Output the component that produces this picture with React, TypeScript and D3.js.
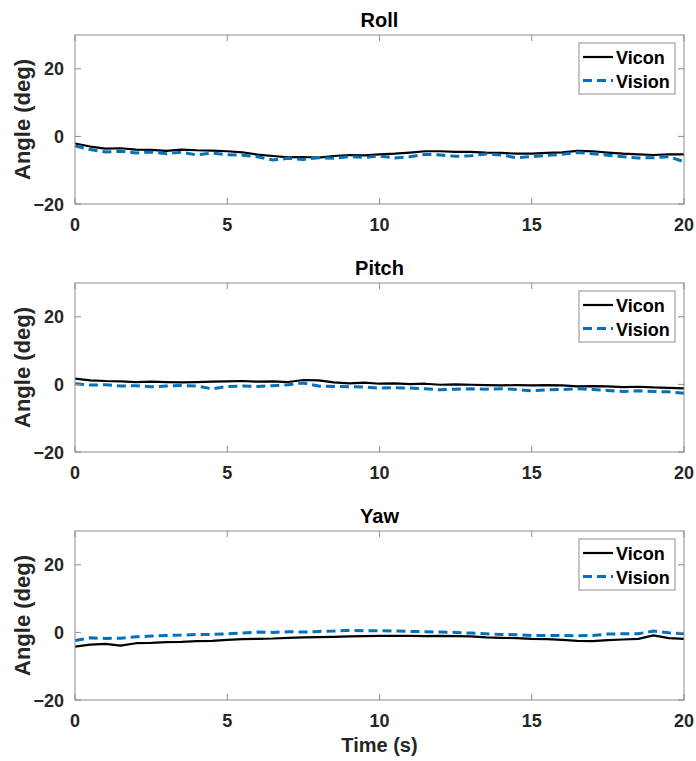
import React from "react";
import * as d3 from "d3";

const time: number[] = d3.range(0, 20.001, 0.5);

const rollVicon = [-2.1, -3.0, -3.6, -3.5, -3.9, -4.0, -4.3, -3.9, -4.1, -4.2, -4.4, -4.7, -5.4, -5.8, -6.2, -6.1, -6.3, -5.8, -5.5, -5.6, -5.3, -5.1, -4.8, -4.4, -4.4, -4.6, -4.6, -4.8, -4.9, -5.1, -5.1, -4.9, -4.7, -4.3, -4.4, -4.8, -5.1, -5.3, -5.5, -5.3, -5.3];
const rollVision = [-2.8, -3.9, -4.6, -4.4, -4.9, -4.6, -5.1, -4.7, -5.5, -4.9, -5.4, -5.6, -6.0, -7.0, -6.5, -6.8, -6.3, -6.5, -6.0, -6.2, -5.8, -6.4, -6.0, -5.3, -5.5, -5.9, -5.7, -5.2, -5.5, -6.3, -6.0, -5.6, -5.3, -4.8, -5.1, -5.6, -6.0, -6.4, -6.3, -6.0, -7.5];
const pitchVicon = [1.7, 1.2, 1.0, 0.9, 0.7, 0.8, 0.7, 0.6, 0.7, 0.8, 0.9, 1.0, 0.8, 0.9, 0.7, 1.3, 1.2, 0.6, 0.3, 0.5, 0.2, 0.3, 0.1, 0.2, -0.1, 0.0, -0.1, -0.2, -0.3, -0.2, -0.3, -0.2, -0.3, -0.6, -0.5, -0.6, -0.8, -0.7, -0.9, -1.0, -1.2];
const pitchVision = [0.2, -0.2, -0.1, -0.5, -0.4, -0.7, -0.5, -0.3, -0.5, -1.3, -0.6, -0.5, -0.6, -0.4, -0.1, 0.4, -0.5, -0.6, -0.7, -0.8, -1.1, -1.0, -1.1, -1.3, -1.6, -1.4, -1.3, -1.4, -1.3, -1.5, -1.9, -1.6, -1.5, -1.3, -1.5, -1.8, -2.1, -1.9, -2.1, -2.2, -2.6];
const yawVicon = [-4.2, -3.6, -3.4, -3.9, -3.2, -3.1, -2.9, -2.8, -2.6, -2.5, -2.2, -2.0, -1.9, -1.8, -1.6, -1.5, -1.4, -1.3, -1.2, -1.1, -1.0, -1.0, -1.0, -1.1, -1.0, -1.1, -1.2, -1.5, -1.6, -1.7, -1.9, -2.0, -2.2, -2.5, -2.6, -2.3, -2.1, -1.9, -0.9, -1.7, -1.9];
const yawVision = [-2.4, -1.6, -1.8, -1.7, -1.3, -1.1, -0.9, -0.8, -0.6, -0.6, -0.4, -0.2, 0.1, 0.0, 0.2, 0.1, 0.3, 0.4, 0.6, 0.5, 0.5, 0.4, 0.3, 0.2, 0.1, 0.0, -0.2, -0.4, -0.6, -0.7, -0.9, -0.9, -0.9, -1.0, -0.9, -0.5, -0.4, -0.4, 0.4, -0.1, -0.4];

const titles = ["Roll", "Pitch", "Yaw"];
const viconSeries = [rollVicon, pitchVicon, yawVicon];
const visionSeries = [rollVision, pitchVision, yawVision];
const xTicks = [0, 5, 10, 15, 20];
const yTicks = [-20, 0, 20];
const legendLabels = ["Vicon", "Vision"];

const W = 696;
const H = 761;
const left = 75;
const right = 684;
const plotH = 169;
const tops = [35, 283, 531];
const FONT = "'Liberation Sans', Arial, Helvetica, sans-serif";
const TEXT = "#262626";
const AXIS = "#8c8c8c";
const BLUE = "#0072BD";

export default function App() {
  const x = d3.scaleLinear().domain([0, 20]).range([left, right]);
  return (
    <svg width={W} height={H} style={{ position: "absolute", left: 0, top: 0, background: "#fff" }} fontFamily={FONT}>
      {titles.map((title, i) => {
        const top = tops[i];
        const y = d3.scaleLinear().domain([-20, 30]).range([top + plotH, top]);
        const line = d3
          .line<number>()
          .x((_, j) => x(time[j]))
          .y((d) => y(d));
        const lx = 579;
        const ly = top + 8;
        return (
          <g key={title}>
            <text x={(left + right) / 2} y={top - 8} textAnchor="middle" fontSize={20} fontWeight="bold" fill="#000">
              {title}
            </text>
            <defs>
              <clipPath id={`clip${i}`}>
                <rect x={left} y={top} width={right - left} height={plotH} />
              </clipPath>
            </defs>
            <g clipPath={`url(#clip${i})`}>
              <path d={line(viconSeries[i]) || ""} fill="none" stroke="#000" strokeWidth={2.2} strokeLinejoin="round" />
              <path d={line(visionSeries[i]) || ""} fill="none" stroke={BLUE} strokeWidth={3} strokeDasharray="9,5" />
            </g>
            <rect x={left} y={top} width={right - left} height={plotH} fill="none" stroke={AXIS} strokeWidth={1} />
            {xTicks.map((t) => (
              <g key={`x${t}`}>
                <line x1={x(t)} x2={x(t)} y1={top + plotH} y2={top + plotH - 6} stroke={AXIS} />
                <line x1={x(t)} x2={x(t)} y1={top} y2={top + 6} stroke={AXIS} />
                <text x={x(t)} y={top + plotH + 27} textAnchor="middle" fontSize={18} fontWeight="bold" fill={TEXT}>
                  {t}
                </text>
              </g>
            ))}
            {yTicks.map((t) => (
              <g key={`y${t}`}>
                <line x1={left} x2={left + 6} y1={y(t)} y2={y(t)} stroke={AXIS} />
                <line x1={right} x2={right - 6} y1={y(t)} y2={y(t)} stroke={AXIS} />
                <text x={64} y={y(t) + 6.5} textAnchor="end" fontSize={18} fontWeight="bold" fill={TEXT}>
                  {t < 0 ? `\u2212${Math.abs(t)}` : `${t}`}
                </text>
              </g>
            ))}
            <text
              transform={`translate(${30},${top + plotH / 2}) rotate(-90)`}
              textAnchor="middle"
              fontSize={22}
              fontWeight="bold"
              fill={TEXT}
            >
              Angle (deg)
            </text>
            <rect x={lx} y={ly} width={96} height={51} fill="#fff" stroke={AXIS} strokeWidth={1} />
            <line x1={lx + 4} x2={lx + 34} y1={ly + 14} y2={ly + 14} stroke="#000" strokeWidth={2.2} />
            <line x1={lx + 4} x2={lx + 34} y1={ly + 37.5} y2={ly + 37.5} stroke={BLUE} strokeWidth={3} strokeDasharray="9,5" />
            <text x={lx + 37} y={ly + 21} fontSize={18} fontWeight="bold" fill="#000">
              {legendLabels[0]}
            </text>
            <text x={lx + 37} y={ly + 44.5} fontSize={18} fontWeight="bold" fill="#000">
              {legendLabels[1]}
            </text>
          </g>
        );
      })}
      <text x={(left + right) / 2} y={752} textAnchor="middle" fontSize={20} fontWeight="bold" fill={TEXT}>
        Time (s)
      </text>
    </svg>
  );
}
